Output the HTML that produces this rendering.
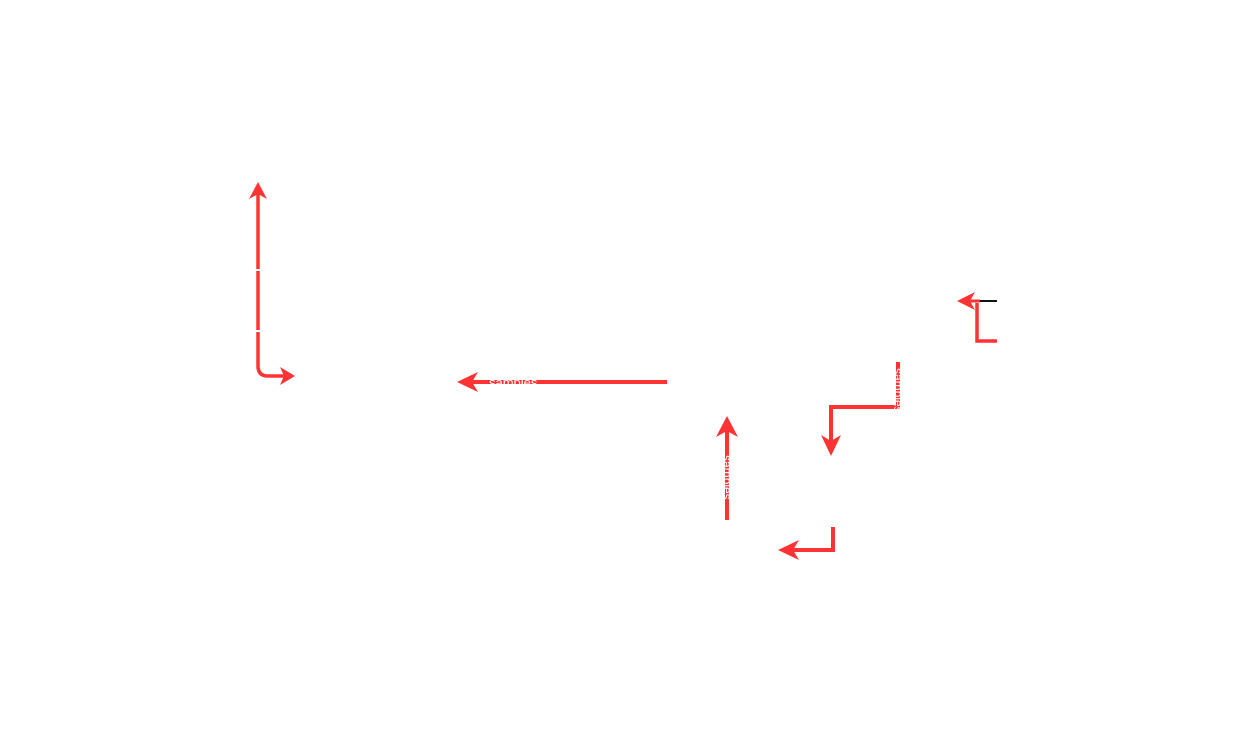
<!DOCTYPE html>
<html><head><meta charset="utf-8"><style>
html,body{margin:0;padding:0;background:#fff;width:1243px;height:738px;overflow:hidden}
svg{display:block}
text{font-family:"Liberation Sans",sans-serif;fill:#fff}
</style></head><body>
<svg width="1243" height="738" viewBox="0 0 1243 738">
<g fill="none" stroke="#ff3333" stroke-width="3.5">
<path d="M258 192 V366 Q258 376 268 376 H286"/>
<path d="M667 382 H468" stroke-width="4"/>
<path d="M727 520 V426" stroke-width="4"/>
<path d="M898 362 V407 H831 V446" stroke-width="4"/>
<path d="M833 527 V550 H790" stroke-width="4"/>
<path d="M977 303 V341 H997"/>
</g>
<line x1="978" y1="301" x2="997" y2="301" stroke="#111" stroke-width="2"/>
<line x1="966" y1="301" x2="980" y2="301" stroke="#ff3333" stroke-width="3"/>
<g fill="#ff3333">
<path d="M258 182 L267 199 L258 194 L249 199Z"/>
<path d="M295 376 L280 385 L284 376 L280 367Z"/>
<path d="M457 382 L478 372 L472 382 L478 392Z"/>
<path d="M727 416 L738 437 L727 431 L716 437Z"/>
<path d="M831 456 L821 435 L831 441 L841 435Z"/>
<path d="M778 550 L799 540 L793 550 L799 560Z"/>
<path d="M957 301 L975 292 L970 301 L975 310Z"/>
</g>
<g stroke="#fff" stroke-width="2">
<line x1="255" y1="270" x2="261" y2="270"/>
<line x1="255" y1="331" x2="261" y2="331"/>
</g>
<text x="489" y="387" font-size="13">samples</text>
<text transform="translate(723,455) rotate(90)" font-size="12">samples</text>
<text transform="translate(894,368) rotate(90)" font-size="12">samples</text>
</svg>
</body></html>
